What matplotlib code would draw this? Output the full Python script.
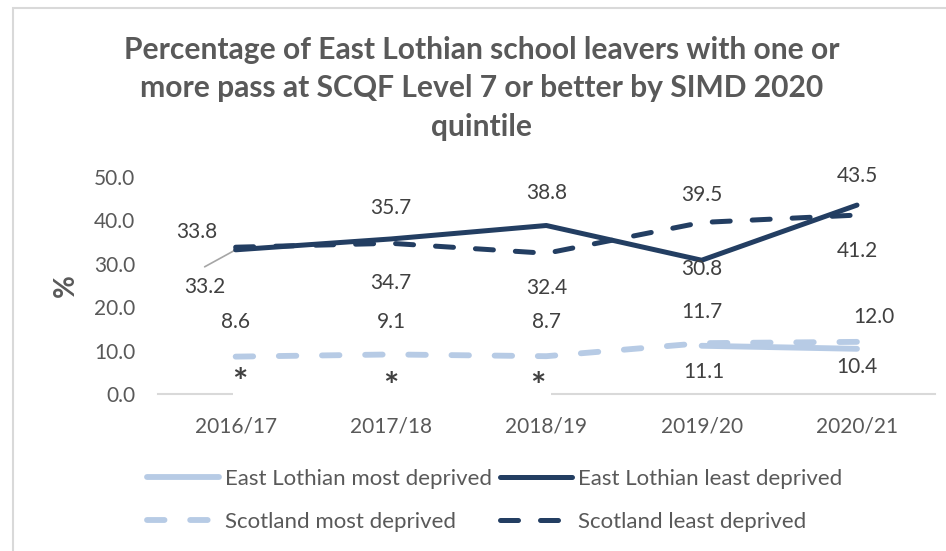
import numpy as np
import matplotlib.pyplot as plt
from matplotlib.patches import Rectangle
from matplotlib.lines import Line2D

plt.rcParams['font.family'] = ['Lato', 'DejaVu Sans']

years = ['2016/17', '2017/18', '2018/19', '2019/20', '2020/21']
el_most = [np.nan, np.nan, np.nan, 11.1, 10.4]
el_least = [33.2, 35.7, 38.8, 30.8, 43.5]
sc_most = [8.6, 9.1, 8.7, 11.7, 12.0]
sc_least = [33.8, 34.7, 32.4, 39.5, 41.2]

dark = '#233E62'
light = '#B7CBE5'
txt = '#595959'

fig = plt.figure(figsize=(9.46, 5.51), dpi=100)
ax = fig.add_axes([0.167, 0.285, 0.821, 0.394])
x = np.arange(len(years))

lw_l, lw_d = 4.2, 3.6
dash_l = dict(dashes=(3.0, 4.4), dash_capstyle='round')
dash_d = dict(dashes=(3.6, 4.4), dash_capstyle='round')
ax.plot(x, sc_most, color=light, lw=lw_l, zorder=3, **dash_l)
ax.plot(x, el_most, color=light, lw=lw_l, solid_capstyle='round', zorder=3)
ax.plot(x, sc_least, color=dark, lw=lw_d, zorder=4, **dash_d)
ax.plot(x, el_least, color=dark, lw=lw_d, solid_capstyle='round', zorder=5)

# label offsets in pixels (dx, dy) for each point
off_el_least = [(-31, -37), (0, 31), (0, 33), (0, -9), (0, 29)]
off_sc_least = [(-39, 15), (0, -40), (0, -35), (0, 27), (0, -36)]
off_sc_most = [(0, 35), (0, 32), (0, 34), (0, 31), (17, 25)]
off_el_most = [None, None, None, (2, -26), (0, -18)]

def label(vals, offs):
    for i, (v, o) in enumerate(zip(vals, offs)):
        if o is None or np.isnan(v):
            continue
        ax.annotate(f'{v:.1f}', (i, v), xytext=o, textcoords='offset pixels',
                    ha='center', va='center', fontsize=15, color='#404040', zorder=6)

label(el_least, off_el_least)
label(sc_least, off_sc_least)
label(sc_most, off_sc_most)
label(el_most, off_el_most)

# leader line for the first East Lothian label
ax.annotate('', (0, el_least[0]), xytext=(-31, -17), textcoords='offset pixels',
            arrowprops=dict(arrowstyle='-', color='#A6A6A6', lw=1.2,
                            shrinkA=0, shrinkB=0))

# asterisks where East Lothian most deprived values are suppressed
missing = [i for i, v in enumerate(el_most) if np.isnan(v)]
ast_dx = [4, 0, -8]
ast_dy = [10, 6, 6]
for i, dx, dy in zip(missing, ast_dx, ast_dy):
    ax.annotate('*', (i, 0), xytext=(dx, dy), textcoords='offset pixels',
                ha='center', va='center', fontsize=26, fontweight='bold',
                color='#404040', zorder=6)
ax.add_patch(Rectangle((missing[0] - 0.02, -1.5), missing[-1] - missing[0] + 0.05, 5,
                       facecolor='white', edgecolor='none', clip_on=False, zorder=2.6))

ax.set_xlim(-0.5, 4.5)
ax.set_ylim(0, 50)
ax.set_yticks(np.arange(0, 51, 10))
ax.set_yticklabels([f'{t:.1f}' for t in np.arange(0, 51, 10)])
ax.set_xticks(x)
ax.set_xticklabels(years)
ax.tick_params(length=0, labelsize=15, labelcolor=txt)
ax.tick_params(axis='y', pad=16.5)
ax.tick_params(axis='x', pad=16)
for s in ['top', 'right', 'left']:
    ax.spines[s].set_visible(False)
ax.spines['bottom'].set_color('#D9D9D9')
ax.spines['bottom'].set_linewidth(1.5)

ax.set_ylabel('%', fontsize=20, fontweight='bold', color=txt, labelpad=11)

fig.text(0.5095, 0.840,
         'Percentage of East Lothian school leavers with one or\n'
         'more pass at SCQF Level 7 or better by SIMD 2020\nquintile',
         ha='center', va='center', fontsize=21.6, fontweight='bold', color=txt,
         linespacing=1.45)

handles = [
    Line2D([], [], color=light, lw=lw_l, solid_capstyle='round'),
    Line2D([], [], color=light, lw=lw_l, **dash_l),
    Line2D([], [], color=dark, lw=lw_d, solid_capstyle='round'),
    Line2D([], [], color=dark, lw=lw_d, **dash_d),
]
names = ['East Lothian most deprived', 'Scotland most deprived',
         'East Lothian least deprived', 'Scotland least deprived']
fig.legend(handles, names, ncol=2, loc='center left', bbox_to_anchor=(147 / 946, 0.0917),
           frameon=False, fontsize=16, labelcolor=txt, handlelength=3.25,
           handletextpad=0.27, columnspacing=0.36, labelspacing=1.05,
           borderpad=0, borderaxespad=0)

# outer chart border
fig.patches.append(Rectangle((13 / 946, -0.1), 1.2, 1 - 8 / 551 + 0.1, transform=fig.transFigure,
                             facecolor='none', edgecolor='#D9D9D9', lw=1.5))

fig.savefig('out.png', dpi=100)
